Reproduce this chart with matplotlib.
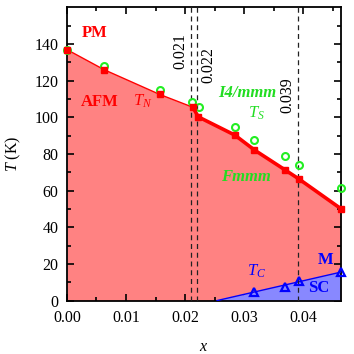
import matplotlib
matplotlib.use("Agg")
import matplotlib.pyplot as plt
import numpy as np

plt.rcParams['font.family'] = ['Liberation Serif', 'DejaVu Serif']
plt.rcParams['mathtext.fontset'] = 'custom'
plt.rcParams['mathtext.rm'] = 'Liberation Serif'
plt.rcParams['mathtext.it'] = 'Liberation Serif:italic'

# T_N (red squares)
xN = [0.0, 0.0063, 0.0157, 0.0213, 0.0222, 0.0284, 0.0317, 0.0368, 0.0393, 0.0463]
TN = [137.0, 126.0, 112.5, 105.5, 100.3, 90.3, 82.2, 71.5, 66.2, 50.2]
# T_S (green circles)
xS = [0.0, 0.0063, 0.0157, 0.0212, 0.0223, 0.0284, 0.0317, 0.0368, 0.0393, 0.0463]
TS = [137.0, 128.3, 115.2, 108.4, 105.4, 94.6, 87.5, 78.8, 74.0, 61.5]
# T_C (blue triangles)
xC = [0.0317, 0.0368, 0.0393, 0.0463]
TC = [4.6, 7.6, 10.4, 15.5]
# SC boundary line
xCline = [0.0254, 0.0463]
TCline = [0.0, 15.5]
# dashed compositions
xdash = [0.021, 0.022, 0.039]
dash_labels = ['0.021', '0.022', '0.039']

fig = plt.figure(figsize=(3.54, 3.54), dpi=100)
ax = fig.add_axes([0.189, 0.151, 0.7735, 0.828])

ax.fill_between(xN, TN, 0, color='#ff8282', lw=0, zorder=1)
ax.fill_between(xCline, TCline, 0, color='#8888ff', lw=0, zorder=2)
ax.plot(xCline, TCline, color='blue', lw=1.0, zorder=3)

for xd in xdash:
    ax.plot([xd, xd], [0, 160], ls=(0, (4, 3)), color='#222222', lw=0.9, zorder=4)
label_pos = [(0.0192, 136), (0.0240, 128.5), (0.0373, 112)]
for (lx, ly), t in zip(label_pos, dash_labels):
    ax.text(lx, ly, t, rotation=90, ha='center', va='center', fontsize=11.5, color='black', zorder=5)

# thin line left, thick line right
ax.plot(xN[:4], TN[:4], color='red', lw=1.0, zorder=5)
ax.plot(xN[3:], TN[3:], color='red', lw=2.6, zorder=5)

ax.plot(xS, TS, ls='none', marker='o', ms=5.0, mfc='none', mec='#22ee22', mew=1.5, zorder=6, clip_on=False)
ax.plot(xN, TN, ls='none', marker='s', ms=5.0, mfc='red', mec='red', zorder=7, clip_on=False)
ax.plot(xC, TC, ls='none', marker='^', ms=6.0, mfc='none', mec='blue', mew=1.6, zorder=7, clip_on=False)

fs = 12
ax.text(0.0047, 146, 'PM', color='red', fontsize=fs, fontweight='bold', ha='center', va='center')
ax.text(0.0056, 108.5, 'AFM', color='red', fontsize=fs, fontweight='bold', ha='center', va='center')
ax.text(0.0128, 109, r'$T_N$', color='red', fontsize=fs, ha='center', va='center')
ax.text(0.0305, 113.5, 'I4/mmm', color='#22dd22', fontsize=fs, fontweight='bold', style='italic', ha='center', va='center')
ax.text(0.0320, 102, r'$T_S$', color='#22dd22', fontsize=fs, ha='center', va='center')
ax.text(0.0303, 67.6, 'Fmmm', color='#22dd22', fontsize=fs, fontweight='bold', style='italic', ha='center', va='center')
ax.text(0.0320, 15.8, r'$T_C$', color='blue', fontsize=fs, ha='center', va='center')
ax.text(0.0437, 22, 'M', color='blue', fontsize=fs, fontweight='bold', ha='center', va='center')
ax.text(0.0425, 6.8, 'SC', color='blue', fontsize=fs, fontweight='bold', ha='center', va='center')

ax.set_xlim(0, 0.0463)
ax.set_ylim(0, 160)
ax.set_xticks([0.0, 0.01, 0.02, 0.03, 0.04])
ax.set_xticklabels(['0.00', '0.01', '0.02', '0.03', '0.04'])
ax.set_xticks(np.arange(0.005, 0.046, 0.01), minor=True)
ax.set_yticks([0, 20, 40, 60, 80, 100, 120, 140])
ax.set_yticks(np.arange(10, 160, 20), minor=True)
ax.tick_params(which='both', direction='in', top=True, right=True, labelsize=11.5, width=1.2)
ax.tick_params(which='major', length=5)
ax.tick_params(axis='x', which='major', pad=7)
ax.tick_params(axis='y', which='major', pad=6)
ax.tick_params(which='minor', length=3)
for s in ax.spines.values():
    s.set_linewidth(1.3)

ax.set_xlabel(r'$x$', fontsize=11.5, labelpad=9)
ax.set_ylabel(r'$T$ (K)', fontsize=11.5, labelpad=8)

fig.savefig('out.png', dpi=100)
